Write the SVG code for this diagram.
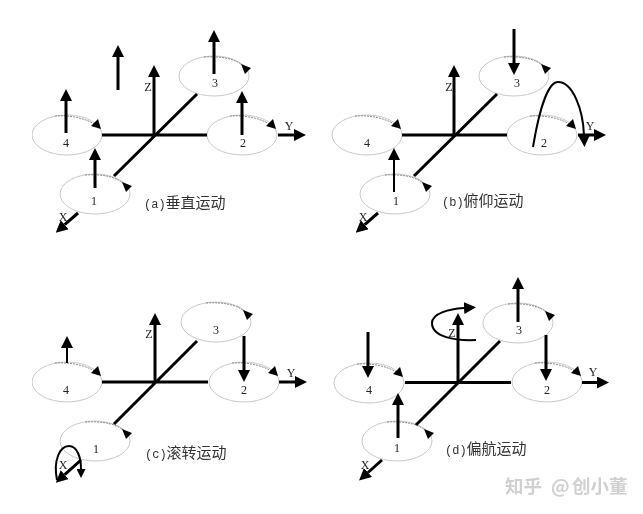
<svg xmlns="http://www.w3.org/2000/svg" width="643" height="514" viewBox="0 0 643 514">
<style>
text{font-family:"Liberation Serif","Noto Sans CJK SC",serif;fill:#222}
.n{font-size:12px;text-anchor:middle}
.a{font-size:12px;text-anchor:middle;fill:#222}
.c{font-size:15px;font-family:"Noto Sans CJK SC",sans-serif;fill:#333}
.p{font-size:12px;font-family:"Liberation Mono",monospace;fill:#333}
.t{fill:none;stroke:#000;stroke-width:3}
.s{fill:none;stroke:#000;stroke-width:2}
.h{marker-end:url(#head)}
.r{fill:#fff;stroke:#c8c8c8;stroke-width:1}
.d{fill:none;stroke:#8a8a8a;stroke-width:1;stroke-dasharray:2 1}
.w{font-size:18.500px;font-family:"Noto Sans CJK SC",sans-serif;fill:#d0d0d0;font-weight:bold}
</style>
<defs>
<filter id="soft" x="0" y="0" width="100%" height="100%"><feGaussianBlur stdDeviation="0.35"/></filter>
<marker id="head" viewBox="0 0 12 12" refX="0" refY="6" markerUnits="userSpaceOnUse" markerWidth="12" markerHeight="12" orient="auto"><path d="M0,0L12,6L0,12z" fill="#000"/></marker>
<marker id="small" viewBox="0 0 12 12" refX="0" refY="6" markerUnits="userSpaceOnUse" markerWidth="9" markerHeight="9" orient="auto"><path d="M0,0L12,6L0,12z" fill="#000"/></marker>
<g id="rA"><ellipse class="r" rx="35" ry="20"/><path class="d" d="M-12,-19C2,-20 20,-17 30,-9"/><polygon points="34,-6 24,-9 31,-16" fill="#000"/></g>
<g id="rB"><ellipse class="r" rx="35" ry="20"/><path class="d" d="M-10,-19C8,-20 22,-17 29,-10"/><polygon points="27,-12 37,-8 31,-2" fill="#000"/></g>
</defs>
<g filter="url(#soft)">
<g id="panel-a">
<g id="a-rotor-1"><use href="#rB" x="95" y="194"/><text class="n" x="94" y="205">1</text></g>
<g id="a-rotor-2"><use href="#rA" x="242" y="135"/><text class="n" x="243" y="147">2</text></g>
<g id="a-rotor-3"><use href="#rB" x="214" y="76"/><text class="n" x="215" y="87">3</text></g>
<g id="a-rotor-4"><use href="#rA" x="67" y="135"/><text class="n" x="66" y="147">4</text></g>
<g id="a-labels"><text class="a" x="148" y="91">Z</text><text class="a" x="289" y="130">Y</text><text class="a" x="63" y="221">X</text>
<text x="144" y="208"><tspan class="p">(a)</tspan><tspan class="c">垂直运动</tspan></text></g>
<g id="a-connectors">
<path class="t" d="M102,135H207M114,176L197,94"/>
<path class="t h" d="M278,135H294"/><path class="t h" d="M154,135V77"/><path class="t h" d="M78,213L64.700,224.700"/>
<path class="t h" d="M118,90V57"/><path class="t h" d="M214,74V42"/><path class="t h" d="M66,133V101"/><path class="t h" d="M242,135V103"/><path class="t h" d="M95,188V160"/>
</g>
</g>
<g id="panel-b">
<g id="b-rotor-1"><use href="#rB" x="395" y="194"/><text class="n" x="396" y="205">1</text></g>
<g id="b-rotor-2"><use href="#rA" x="542" y="135"/><text class="n" x="544" y="147">2</text></g>
<g id="b-rotor-3"><use href="#rB" x="514" y="76"/><text class="n" x="517" y="87">3</text></g>
<g id="b-rotor-4"><use href="#rA" x="367" y="135"/><text class="n" x="367" y="147">4</text></g>
<g id="b-labels"><text class="a" x="449" y="91">Z</text><text class="a" x="590" y="130">Y</text><text class="a" x="363" y="221">X</text>
<text x="442" y="206"><tspan class="p">(b)</tspan><tspan class="c">俯仰运动</tspan></text></g>
<g id="b-connectors">
<path class="t" d="M402,135H507M414,176L497,94"/>
<path class="t h" d="M578,135H594"/><path class="t h" d="M454,135V77"/><path class="t h" d="M378,213L364.700,224.700"/>
<path class="t h" d="M514,29V63"/><path class="s h" d="M394,192V160"/>
<path class="s" d="M533,147C540,105 549,82 558,82C573,82 583,110 584,135" style="marker-end:url(#head)"/>
</g>
</g>
<g id="panel-c">
<g id="c-rotor-1"><use href="#rB" x="95" y="441"/><text class="n" x="96" y="453">1</text></g>
<g id="c-rotor-2"><use href="#rA" x="244" y="382"/><text class="n" x="244" y="394">2</text></g>
<g id="c-rotor-3"><use href="#rB" x="216" y="322"/><text class="n" x="216" y="334">3</text></g>
<g id="c-rotor-4"><use href="#rA" x="67" y="382"/><text class="n" x="66" y="394">4</text></g>
<g id="c-labels"><text class="a" x="149" y="338">Z</text><text class="a" x="291" y="377">Y</text><text class="a" x="63" y="469">X</text>
<text x="145" y="458"><tspan class="p">(c)</tspan><tspan class="c">滚转运动</tspan></text></g>
<g id="c-connectors">
<path class="t" d="M102,382H208M114,424L197,341"/>
<path class="t h" d="M279,382H295"/><path class="t h" d="M155,382V325"/><path class="t h" d="M81,460L64.700,474.700"/>
<path class="s h" d="M67,363V348"/><path class="t h" d="M244,336V370"/>
<path class="s" d="M57,480C53,460 60,446 69,446C77,446 81,457 81,469" style="marker-end:url(#small)"/>
</g>
</g>
<g id="panel-d">
<g id="d-rotor-1"><use href="#rB" x="397" y="441"/><text class="n" x="397" y="452">1</text></g>
<g id="d-rotor-2"><use href="#rA" x="547" y="382"/><text class="n" x="547" y="394">2</text></g>
<g id="d-rotor-3"><use href="#rB" x="518" y="323"/><text class="n" x="519" y="334">3</text></g>
<g id="d-rotor-4"><use href="#rA" x="369" y="383"/><text class="n" x="369" y="394">4</text></g>
<g id="d-labels"><text class="a" x="452" y="337">Z</text><text class="a" x="593" y="376">Y</text><text class="a" x="365" y="469">X</text>
<text x="445" y="454"><tspan class="p">(d)</tspan><tspan class="c">偏航运动</tspan></text></g>
<g id="d-connectors">
<path class="t" d="M405,382.500H511M416,425L500,341"/>
<path class="t h" d="M582,382.500H597"/><path class="t h" d="M458,382.500V325"/><path class="t h" d="M382,460L368,472.500"/>
<path class="t h" d="M518,322V289"/><path class="t h" d="M368,332V366"/><path class="t h" d="M398,438V405"/><path class="t h" d="M546,335V369"/>
<path class="s" d="M476,340C455,341 432,337 432,323C432,313 450,309 464,308" style="marker-end:url(#head)"/>
</g>
</g>
<text class="w" x="505" y="493">知乎 <tspan x="551">@</tspan><tspan x="572">创小董</tspan></text>
</g>
</svg>
